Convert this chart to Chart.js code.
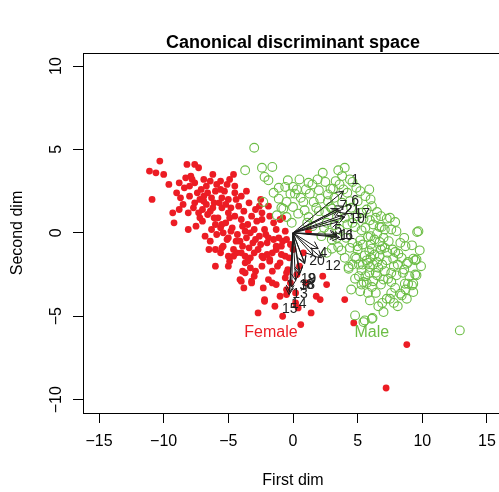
<!DOCTYPE html>
<html>
<head>
<meta charset="utf-8">
<script src="https://cdn.jsdelivr.net/npm/chart.js@4.4.0/dist/chart.umd.min.js"></script>
<style>
  html, body { margin: 0; padding: 0; background: #fff; overflow: hidden; }
  #wrap { width: 510px; height: 492px; }
</style>
</head>
<body>
<div id="wrap"><canvas id="chart" width="510" height="492"></canvas></div>
<script>
/* ─── Data ───────────────────────────────────── */
const xTicks = [-15, -10, -5, 0, 5, 10, 15];
const yTicks = [-10, -5, 0, 5, 10];

const femalePoints = [
  [-10.3,4.3],[-11.1,3.7],[-10.6,3.6],[-10.0,3.5],[-8.2,4.1],[-7.6,4.1],[-7.3,3.9],[-6.2,3.5],[-7.9,3.4],[-7.8,3.2],
  [-5.6,3.1],[-4.9,3.2],[-7.6,3.0],[-6.4,3.1],[-9.0,2.4],[-8.4,2.7],[-7.1,2.6],[-6.7,2.8],[-6.0,2.5],[-4.5,2.8],
  [-10.9,2.0],[-8.7,2.1],[-8.0,2.2],[-7.2,2.0],[-6.3,2.1],[-5.5,2.1],[-5.0,2.0],[-8.5,1.7],[-6.7,1.7],[-7.7,1.5],
  [-8.1,1.2],[-6.4,1.3],[-7.2,0.9],[-7.0,0.7],[-9.2,0.6],[-8.1,0.2],[-6.3,0.2],[-5.6,0.3],[-6.4,-0.5],[-5.9,-0.1],
  [-5.4,-0.8],[-5.1,-0.4],[-6.0,-2.0],[-4.6,-1.0],[-4.9,-1.7],[-4.0,-1.2],[-3.7,-1.8],[-4.1,-2.8],[-3.3,-2.1],[-2.9,-2.3],
  [-2.4,-1.4],[-1.8,-1.7],[-1.3,-1.0],[-1.0,-1.8],[-3.2,-2.9],[-2.3,-3.3],[-3.9,-2.3],[-0.6,-2.7],[-0.5,-3.4],[-1.3,0.2],
  [-0.6,0.1],[-1.8,1.0],[-2.4,0.8],[-1.0,0.8],[-2.0,-0.6],[-1.5,-0.4],[-4.0,-2.9],[-1.3,-3.1],[-2.2,-4.1],[-1.4,-4.4],
  [-2.7,-4.8],[-0.8,-5.0],[-0.5,-3.7],[0.2,-4.2],[0.6,-5.5],[1.4,-4.8],[2.1,-4.0],[1.8,-3.8],[2.6,-3.1],[2.3,-2.6],
  [4.0,-4.0],[4.7,-5.4],[8.8,-6.7],[7.2,-9.3],[-0.3,-1.5],[0.3,-2.5],[-0.2,-3.0],[0.5,-2.0],[0.2,-3.6],[-0.4,-2.2],
  [0.8,-1.2],[-0.8,-0.5],[1.0,-3.0],[0.4,-4.5],[1.2,0.1],[-2.6,1.6],[-0.8,0.9],[-5.5,1.5],[-5.0,1.2],[-4.5,1.0],
  [-4.0,0.8],[-3.5,0.5],[-3.0,0.2],[-4.2,1.6],[-3.8,1.3],[-3.2,1.0],[-2.8,0.7],[-5.8,0.9],[-5.2,0.6],[-4.7,0.3],
  [-4.3,-0.1],[-3.6,-0.3],[-3.1,-0.6],[-2.6,-0.2],[-2.2,0.2],[-6.1,1.8],[-6.6,1.1],[-7.0,1.4],[-5.3,2.5],[-4.0,2.2],
  [-3.4,1.8],[-2.9,1.4],[-2.4,1.2],[-3.9,-0.8],[-4.4,-0.5],[-5.0,-0.3],[-3.3,-1.5],[-2.7,-1.0],[-2.0,-1.3],[-1.6,-2.3],
  [-4.6,-1.4],[-5.6,-1.2],[-6.8,-0.2],[-7.5,0.4],[-7.6,1.8],[-8.8,1.4],[-6.5,-1.0],[-3.0,-2.6],[-1.9,-2.8],[-1.2,-2.0],
  [-0.9,-0.8],[-1.5,0.6],[-2.1,-0.1],[-3.7,0.1],[-4.9,0.9],[-5.4,0.0],[-6.0,0.5],[-2.5,2.0],[-1.9,1.6],[-3.6,2.5],
  [-4.6,3.5],[-5.1,2.9],[-6.9,3.2],[-8.8,3.0],[-9.6,2.9],[-9.3,1.2],[-6.0,-1.0],[-5.0,-2.0],[-3.7,-2.4],[-3.2,-3.0],
  [-2.2,-4.0],[-5.5,-0.9],[-4.35,-1.2],[-3.7,-1.4],[-3.5,-1.7],[-2.3,-1.5],[-1.8,-1.6],[-0.6,-1.4],[-0.5,-2.4],[-0.5,-0.4],
  [-1.3,-0.8],[-1.9,-0.3],[-7.4,2.4],[-6.9,2.2],[-6.6,2.4],[-5.9,2.9],[-5.7,1.8],[-5.2,1.7],[-4.8,1.5],[-4.4,2.0],
  [-6.2,1.5],[-6.9,1.9],[-7.3,1.2],[-6.1,0.9],[-5.5,0.5],[-4.8,0.1],[-3.9,0.4],[-3.3,0.0],[-2.9,-0.4],[-4.1,-0.5],
  [-3.4,-0.9],[-2.5,-0.7],[-3.0,-1.2],[-2.4,-2.0],[-1.6,-1.2],[-1.1,-0.3],[-0.9,-1.3],[-4.5,2.4],[-5.6,2.6],[-8.0,2.8],
  [-8.3,3.3],[-5.0,-1.4],[-3.8,-3.3],[-1.0,-3.8],[-1.6,-3.0],[0.0,-1.0],[-0.2,-0.7]
];

const malePoints = [
  [-3.0,5.1],[-3.7,3.75],[-2.4,3.9],[-1.6,3.95],[-2.2,3.35],[-1.9,3.15],[-0.4,3.15],[0.5,3.2],[-0.6,2.75],[0.0,2.75],
  [0.15,2.35],[-0.2,2.35],[-1.1,2.05],[-2.3,1.85],[-0.5,1.85],[0.8,1.85],[1.3,2.35],[2.0,2.55],[2.5,3.05],[2.9,2.65],
  [3.5,3.75],[1.6,1.85],[2.1,2.05],[0.0,1.55],[-0.75,1.45],[-1.25,1.05],[0.9,1.35],[0.4,1.15],[-0.5,0.95],[1.2,0.95],
  [2.9,1.55],[2.5,1.25],[3.8,3.4],[4.6,3.05],[5.6,2.2],[6.5,1.25],[7.25,0.85],[7.5,0.9],[6.7,0.35],[7.9,0.65],
  [9.7,0.1],[9.2,-0.75],[9.8,-1.05],[9.3,-1.55],[8.8,-1.85],[9.55,-2.55],[8.9,-3.05],[9.3,-3.05],[8.3,-3.65],[7.25,-3.95],
  [7.0,-4.75],[6.1,-5.15],[5.45,-5.35],[4.8,-4.95],[5.95,-4.05],[4.8,-2.75],[5.45,-2.95],[6.1,-3.25],[4.3,-2.05],[12.9,-5.85],
  [9.6,0.05],[6.85,0.35],[7.9,-1.15],[8.15,-1.25],[8.9,-1.75],[9.45,-1.65],[5.55,-1.35],[6.1,-0.95],[5.2,-0.45],[5.8,-0.25],
  [6.5,-0.05],[6.7,-0.55],[4.9,-1.55],[5.3,0.15],[4.8,0.35],[5.95,0.75],[5.45,0.85],[3.1,2.65],[3.0,1.45],[3.25,0.45],
  [3.5,-0.85],[3.75,-1.05],[3.0,-0.95],[4.8,-1.45],[5.7,-1.65],[6.5,-1.75],[7.25,-1.65],[7.75,-1.55],[9.55,-1.6],[4.3,-2.15],
  [5.3,-2.25],[5.95,-2.05],[6.5,-2.55],[7.35,-2.75],[7.6,-2.95],[8.0,-2.55],[8.65,-3.05],[9.2,-3.15],[9.45,-2.5],[9.3,-3.55],
  [8.4,-3.75],[8.8,-3.95],[7.5,-3.95],[5.55,-5.25],[6.15,-5.1],[3.2,2.1],[3.8,1.8],[4.2,2.4],[4.5,1.5],[5.0,1.9],
  [5.3,1.2],[4.0,0.9],[4.6,0.6],[3.6,0.2],[2.6,0.6],[2.2,-0.2],[3.0,-0.4],[4.1,-0.3],[4.4,-0.9],[5.0,-0.8],
  [5.6,0.3],[6.2,0.5],[6.0,-0.7],[6.3,-1.3],[6.8,-1.0],[7.0,-0.3],[7.3,-1.2],[5.8,-1.8],[6.6,-2.1],[7.1,-2.3],
  [5.1,-2.6],[5.7,-3.0],[6.8,-3.1],[7.8,-2.0],[8.3,-0.6],[8.5,-2.4],[1.5,2.9],[2.3,3.6],[1.0,2.6],[1.8,1.5],
  [0.6,2.1],[-0.9,1.5],[4.9,2.7],[3.4,1.0],[2.7,1.9],[1.1,0.6],[-1.5,2.4],[-0.1,0.6],[6.4,-3.6],[5.2,-3.5],
  [7.6,-3.6],[6.9,-4.2],[4.5,-3.4],[5.9,2.6],[4.4,3.2],[3.9,2.6],[6.1,1.6],[7.1,0.2],[8.0,0.1],[8.7,-0.8],
  [9.9,-2.0],[8.1,-4.4],[5.0,-1.0],[5.4,-0.7],[5.9,-1.1],[6.3,-0.4],[6.9,-0.8],[7.4,-0.5],[7.7,-1.0],[6.0,-1.5],
  [6.4,-2.4],[6.9,-1.9],[5.6,-2.6],[6.2,-2.9],[7.0,-2.8],[5.1,-1.9],[4.6,-0.6],[4.2,0.5],[4.9,1.0],[5.7,1.4],
  [6.8,1.0],[7.6,0.2],[8.4,-1.5],[8.6,-2.2],[7.9,-3.3],[5.8,-3.6],[6.6,-4.4],[4.4,1.9],[3.6,2.9],[2.0,1.3],
  [1.5,0.4],[2.8,0.0],[1.9,3.2],[2.7,2.3],[3.3,3.1],[1.2,3.0],[0.3,2.6],[-1.1,2.7],[4.0,3.9],[5.2,2.5],
  [6.0,2.0],[6.4,0.9],[6.0,-0.2],[5.4,-1.9],[6.2,-1.9],[6.7,-1.4],[7.1,-0.9],[7.6,-2.4],[8.1,-1.9],[5.9,-2.4],
  [5.3,-3.1],[4.6,-1.9],[4.0,-1.5],[3.4,-0.3],[2.4,0.3],[2.6,-1.2],[8.6,-0.3],[9.0,-2.6],[8.7,-3.4],[7.8,-4.2]
];

// discriminant loadings (arrow tips) and where their numbers sit
const arrowLabels = ['1','2','3','4','5','6','7','8','9','10','11','12','13','14','15','16','17','18','19','20','21'];
const arrowX = [3.9, 3.6, 0.2, 1.95, 3.4, 3.9, 3.5, 0.55, 0.9, 4.0, 3.6, 2.2, -0.1, -0.25, -0.3, 3.4, 4.15, 0.5, 0.9, 1.55, 3.5];
const arrowY = [2.5, 1.35, -2.85, -0.95, -0.1, 1.6, 1.45, -2.4, -1.85, 0.95, -0.28, -1.5, -3.25, -3.55, -3.7, -0.2, 1.15, -2.5, -1.8, -1.35, 0.65];
const labelX = [4.8, 4.3, 0.8, 2.35, 3.5, 4.8, 3.9, 1.3, 1.45, 4.95, 4.2, 3.1, 0.55, 0.45, -0.25, 4.05, 5.35, 1.1, 1.2, 1.85, 4.58];
const labelY = [3.15, 1.35, -3.2, -1.2, 0.15, 1.9, 1.6, -3.15, -2.75, 0.8, -0.15, -2.0, -3.7, -4.25, -4.55, -0.2, 1.1, -3.15, -2.75, -1.7, 1.35];

const groupNames = ['Female', 'Male'];
const groupLabelX = [-1.7, 6.1];
const groupLabelY = [-6.0, -6.0];

/* ─── Style ──────────────────────────────────── */
const colors = { female: '#ec1c24', male: '#6cbd45', arrow: '#1a1a1a', text: '#000000' };
const FONT = "'Liberation Sans', Arial, Helvetica, sans-serif";

function fmt(v) {
  return String(v).replace('-', '\u2212');
}

/* ─── Overlay: box, arrows, texts ────────────── */
const overlay = {
  id: 'overlay',
  afterDatasetsDraw(chart) {
    const { ctx, chartArea: a, scales: { x, y } } = chart;
    ctx.save();
    ctx.strokeStyle = '#000';
    ctx.lineWidth = 1;
    ctx.strokeRect(Math.round(a.left) + 0.5, Math.round(a.top) + 0.5,
      Math.round(a.right - a.left), Math.round(a.bottom - a.top));

    // arrows from the origin
    const x0 = x.getPixelForValue(0), y0 = y.getPixelForValue(0);
    const head = 8;
    ctx.strokeStyle = colors.arrow;
    ctx.lineWidth = 1;
    arrowX.forEach((vx, i) => {
      const x1 = x.getPixelForValue(vx), y1 = y.getPixelForValue(arrowY[i]);
      const ang = Math.atan2(y1 - y0, x1 - x0);
      ctx.beginPath();
      ctx.moveTo(x0, y0);
      ctx.lineTo(x1, y1);
      ctx.moveTo(x1 - head * Math.cos(ang - Math.PI / 6), y1 - head * Math.sin(ang - Math.PI / 6));
      ctx.lineTo(x1, y1);
      ctx.lineTo(x1 - head * Math.cos(ang + Math.PI / 6), y1 - head * Math.sin(ang + Math.PI / 6));
      ctx.stroke();
    });

    ctx.fillStyle = '#222';
    ctx.font = '14px ' + FONT;
    ctx.textAlign = 'center';
    ctx.textBaseline = 'middle';
    arrowLabels.forEach((t, i) => {
      ctx.fillText(t, x.getPixelForValue(labelX[i]), y.getPixelForValue(labelY[i]));
    });

    ctx.font = '16px ' + FONT;
    groupNames.forEach((t, i) => {
      ctx.fillStyle = i === 0 ? colors.female : colors.male;
      ctx.fillText(t, x.getPixelForValue(groupLabelX[i]), y.getPixelForValue(groupLabelY[i]));
    });
    ctx.restore();
  },
  afterDraw(chart) {
    const { ctx, chartArea: a, scales: { y } } = chart;
    const cx = (a.left + a.right) / 2, cy = (a.top + a.bottom) / 2;
    ctx.save();
    ctx.fillStyle = colors.text;
    ctx.textAlign = 'center';
    ctx.textBaseline = 'middle';

    ctx.font = 'bold 18px ' + FONT;
    ctx.fillText('Canonical discriminant space', cx, 43);

    ctx.font = '16px ' + FONT;
    ctx.fillText('First dim', cx, 481);

    // rotated y tick labels, R style
    y.ticks.forEach(t => {
      ctx.save();
      ctx.translate(57, y.getPixelForValue(t.value));
      ctx.rotate(-Math.PI / 2);
      ctx.fillText(fmt(t.value), 0, 0);
      ctx.restore();
    });

    ctx.translate(18, cy);
    ctx.rotate(-Math.PI / 2);
    ctx.fillText('Second dim', 0, 0);
    ctx.restore();
  }
};

/* ─── Chart ──────────────────────────────────── */
const axisGrid = { drawOnChartArea: false, drawTicks: true, tickLength: 10, color: '#000', lineWidth: 1 };

new Chart(document.getElementById('chart').getContext('2d'), {
  type: 'scatter',
  data: {
    datasets: [
      {
        label: 'Male',
        data: malePoints.map(p => ({ x: p[0], y: p[1] })),
        pointRadius: 4.4,
        pointBackgroundColor: 'rgba(0,0,0,0)',
        pointBorderColor: colors.male,
        pointBorderWidth: 1.1
      },
      {
        label: 'Female',
        data: femalePoints.map(p => ({ x: p[0], y: p[1] })),
        pointRadius: 3.4,
        pointBackgroundColor: colors.female,
        pointBorderWidth: 0
      }
    ]
  },
  options: {
    responsive: false,
    animation: false,
    events: [],
    layout: { padding: { top: 53, right: 7, left: 0, bottom: 0 } },
    plugins: { legend: { display: false }, tooltip: { enabled: false } },
    scales: {
      x: {
        type: 'linear',
        min: -16.24,
        max: 16.24,
        afterBuildTicks: s => { s.ticks = xTicks.map(v => ({ value: v })); },
        afterFit: s => { s.height = 79; },
        grid: axisGrid,
        border: { display: true, color: '#000' },
        ticks: {
          autoSkip: false,
          maxRotation: 0,
          padding: 9,
          color: colors.text,
          font: { family: FONT, size: 16 },
          callback: v => fmt(v)
        }
      },
      y: {
        type: 'linear',
        min: -10.8,
        max: 10.78,
        afterBuildTicks: s => { s.ticks = yTicks.map(v => ({ value: v })); },
        afterFit: s => { s.width = 83; },
        grid: axisGrid,
        border: { display: true, color: '#000' },
        ticks: { display: false }
      }
    }
  },
  plugins: [overlay]
});
</script>
</body>
</html>
